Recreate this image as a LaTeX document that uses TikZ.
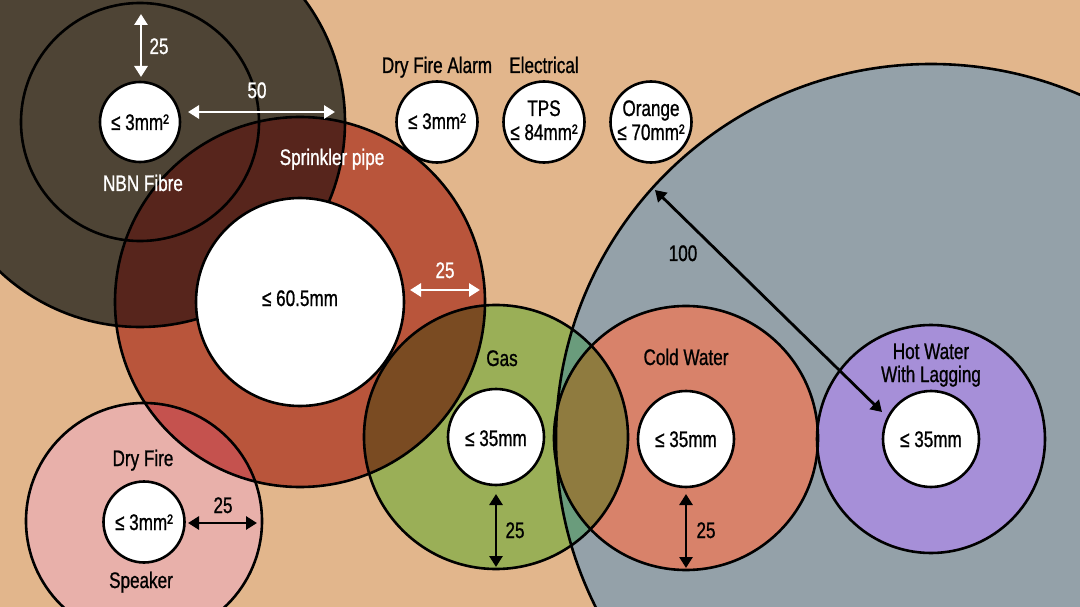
\documentclass[tikz,border=0pt]{standalone}
\usepackage{fontspec}
\setmainfont{Liberation Sans}[FakeStretch=0.76,FakeBold=0.9]
\usetikzlibrary{arrows.meta}
\definecolor{bgc}{HTML}{E2B68C}
\definecolor{nbnc}{HTML}{4E4435}
\definecolor{nbnspr}{HTML}{57251C}
\definecolor{sprc}{HTML}{B9553B}
\definecolor{sprpink}{HTML}{C5524E}
\definecolor{pinkc}{HTML}{E8B0AA}
\definecolor{gasc}{HTML}{9AAF57}
\definecolor{sprgas}{HTML}{7A4B22}
\definecolor{greyc}{HTML}{94A1A9}
\definecolor{greygas}{HTML}{6A9C7C}
\definecolor{gascold}{HTML}{8F7B3F}
\definecolor{coldc}{HTML}{D8826A}
\definecolor{purplec}{HTML}{A68FD8}
\tikzset{
  ring/.style={draw=black, line width=2.6pt},
  hole/.style={circle, draw=black, fill=white, line width=2.6pt, inner sep=0pt, minimum size=#1},
  lbl/.style={inner sep=0pt, text height=16pt, text depth=0pt, font=\fontsize{22.5}{24}\selectfont},
  wlbl/.style={lbl, text=white},
  arr/.style={line width=2.8pt, {Triangle[length=11pt,width=13pt]}-{Triangle[length=11pt,width=13pt]}},
  warr/.style={arr, draw=white},
}
\begin{document}
\begin{tikzpicture}[x=1pt,y=-1pt]
\useasboundingbox (0,0) rectangle (1080,607);
\clip (0,0) rectangle (1080,607);
\fill[bgc] (0,0) rectangle (1080,607);
% centres
\coordinate (cN) at (140,122);
\coordinate (cG) at (931,439);
\coordinate (cS) at (300,302);
\coordinate (cP) at (144,521);
\coordinate (cA) at (496,437);
\coordinate (cC) at (686,438);
% base disks
\fill[nbnc] (cN) circle (205pt);
\fill[greyc] (cG) circle (375pt);
\fill[sprc] (cS) circle (185pt);
\fill[pinkc] (cP) circle (118pt);
\fill[gasc] (cA) circle (132pt);
\fill[coldc] (cC) circle (132pt);
\fill[purplec] (cG) circle (114pt);
% overlaps
\begin{scope}\clip (cN) circle (205pt); \fill[nbnspr] (cS) circle (185pt);\end{scope}
\begin{scope}\clip (cS) circle (185pt); \fill[sprpink] (cP) circle (118pt);\end{scope}
\begin{scope}\clip (cS) circle (185pt); \fill[sprgas] (cA) circle (132pt);\end{scope}
\begin{scope}\clip (cG) circle (375pt); \fill[greygas] (cA) circle (132pt);\end{scope}
\begin{scope}\clip (cA) circle (132pt); \fill[gascold] (cC) circle (132pt);\end{scope}
% outlines
\draw[ring] (cN) circle (205pt);
\draw[ring] (cN) circle (119pt);
\draw[ring] (cG) circle (375pt);
\draw[ring] (cS) circle (185pt);
\draw[ring] (cP) circle (118pt);
\draw[ring] (cA) circle (132pt);
\draw[ring] (cC) circle (132pt);
\draw[ring] (cG) circle (114pt);
% inner holes
\node[hole=80pt] (nbnIn) at (cN) {};
\node[hole=208pt] (sprIn) at (cS) {};
\node[hole=81pt] (pinkIn) at (144,522) {};
\node[hole=96pt] (gasIn) at (cA) {};
\node[hole=96pt] (coldIn) at (686,439) {};
\node[hole=96pt] (hotIn) at (cG) {};
\node[hole=81pt] (dfaIn) at (437,122) {};
\node[hole=81pt] (tpsIn) at (544,122) {};
\node[hole=81pt] (orgIn) at (651,122) {};
% texts in holes
\node[lbl] (t1) at (140,122) {≤ 3mm²};
\node[lbl] (t2) at (300,298) {≤ 60.5mm};
\node[lbl] (t3) at (144,522) {≤ 3mm²};
\node[lbl] (t4) at (496,438) {≤ 35mm};
\node[lbl] (t5) at (686,439) {≤ 35mm};
\node[lbl] (t6) at (931,439) {≤ 35mm};
\node[lbl] (t7) at (437,121) {≤ 3mm²};
\node[lbl] (t8) at (544,108) {TPS};
\node[lbl] (t9) at (544,132) {≤ 84mm²};
\node[lbl] (t10) at (651,108) {Orange};
\node[lbl] (t11) at (651,132) {≤ 70mm²};
% titles
\node[wlbl] (nbnT) at (143,183) {NBN Fibre};
\node[wlbl] (sprT) at (332,157) {Sprinkler pipe};
\node[lbl] (dfaT) at (437,65) {Dry Fire Alarm};
\node[lbl] (elT) at (544,65) {Electrical};
\node[lbl] (gasT) at (502,358) {Gas};
\node[lbl] (coldT) at (686,357) {Cold Water};
\node[lbl] (hotT1) at (931,351) {Hot Water};
\node[lbl] (hotT2) at (931,374) {With Lagging};
\node[lbl] (dfT) at (143,458) {Dry Fire};
\node[lbl] (spkT) at (141,580) {Speaker};
% arrow end points
\coordinate (a1s) at (141,14); \coordinate (a1e) at (141,77);
\coordinate (a2s) at (188,112); \coordinate (a2e) at (335,112);
\coordinate (a3s) at (410,290); \coordinate (a3e) at (480,290);
\coordinate (a4s) at (188,523); \coordinate (a4e) at (257,523);
\coordinate (a5s) at (496,494); \coordinate (a5e) at (496,567);
\coordinate (a6s) at (686,494); \coordinate (a6e) at (686,568);
\coordinate (a7s) at (655,190); \coordinate (a7e) at (882,412);
\draw[warr] (a1s) -- (a1e);
\draw[warr] (a2s) -- (a2e);
\draw[warr] (a3s) -- (a3e);
\draw[arr] (a4s) -- (a4e);
\draw[arr] (a5s) -- (a5e);
\draw[arr] (a6s) -- (a6e);
\draw[arr] (a7s) -- (a7e);
% dimension labels
\node[wlbl] (d1) at (159,46) {25};
\node[wlbl] (d2) at (257,90) {50};
\node[wlbl] (d3) at (445,270) {25};
\node[lbl] (d4) at (223,505) {25};
\node[lbl] (d5) at (515,530) {25};
\node[lbl] (d6) at (706,530) {25};
\node[lbl] (d7) at (683,253) {100};
\end{tikzpicture}
\end{document}
